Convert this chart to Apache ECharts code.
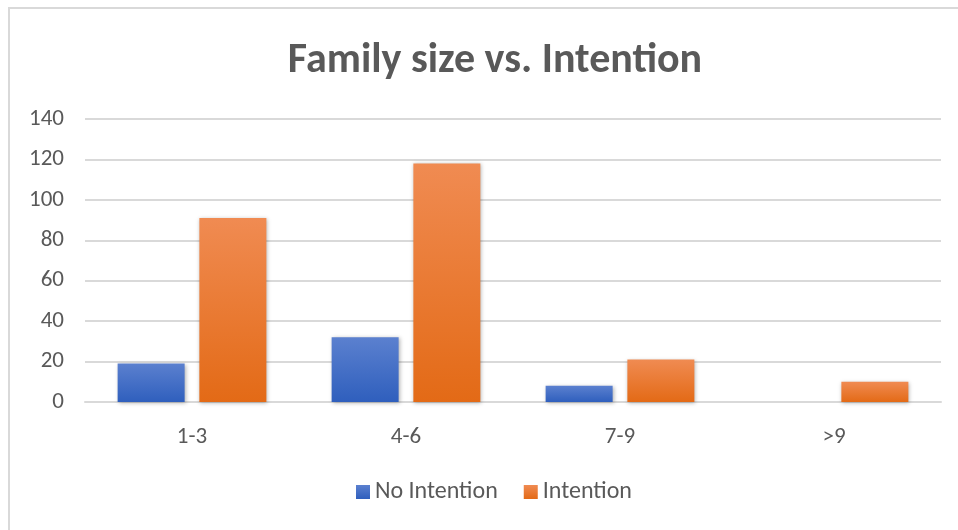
<!DOCTYPE html>
<html>
<head>
<meta charset="utf-8">
<script src="https://cdn.jsdelivr.net/npm/echarts@6/dist/echarts.min.js"></script>
<style>
  html, body { margin: 0; padding: 0; background: #ffffff; }
  #frame { position: absolute; left: 8px; top: 7px; width: 960px; height: 540px; border: 2px solid #d9d9d9; box-sizing: border-box; }
  #chart { position: absolute; left: 0; top: 0; width: 958px; height: 530px; }
</style>
</head>
<body>
<div id="frame"></div>
<div id="chart"></div>
<script>
// Family size groups and respondent counts
const categories = ['1-3', '4-6', '7-9', '>9'];
const noIntention = [19, 32, 8, 0];
const intention = [91, 118, 21, 10];
const yTicks = { min: 0, max: 140, interval: 20 };

const chart = echarts.init(document.getElementById('chart'), null, { renderer: 'canvas' });

function grad(top, bottom) {
  return new echarts.graphic.LinearGradient(0, 0, 0, 1, [
    { offset: 0, color: top },
    { offset: 1, color: bottom }
  ]);
}

const textColor = '#595959';
const font = 'Calibri, Carlito, "Open Sans", sans-serif';

chart.setOption({
  animation: false,
  backgroundColor: 'transparent',
  title: {
    text: 'Family size vs. Intention',
    left: 490,
    textAlign: 'center',
    top: 35,
    textStyle: { fontFamily: font, fontSize: 42, fontWeight: 600, color: textColor }
  },
  legend: {
    bottom: 21,
    left: 351,
    itemWidth: 14,
    itemHeight: 14,
    itemGap: 26,
    icon: 'rect',
    textStyle: { fontFamily: font, fontSize: 24, color: textColor },
    data: ['No Intention', 'Intention']
  },
  grid: { left: 85, right: 17, top: 119, bottom: 128, containLabel: false },
  xAxis: {
    type: 'category',
    data: categories,
    axisLine: { lineStyle: { color: '#d9d9d9', width: 2 } },
    axisTick: { show: false },
    axisLabel: { margin: 24, fontFamily: font, fontSize: 23, color: textColor }
  },
  yAxis: {
    type: 'value',
    min: yTicks.min,
    max: yTicks.max,
    interval: yTicks.interval,
    axisLine: { show: false },
    axisTick: { show: false },
    axisLabel: { margin: 21, fontFamily: font, fontSize: 23, color: textColor },
    splitLine: { lineStyle: { color: '#d9d9d9', width: 2 } }
  },
  series: [
    {
      name: 'No Intention',
      type: 'bar',
      data: noIntention,
      barWidth: 67,
      barGap: '22%',
      itemStyle: {
        color: grad('#5b80cf', '#2f5fbd'),
        shadowBlur: 4,
        shadowColor: 'rgba(0,0,0,0.3)',
        shadowOffsetX: 1,
        shadowOffsetY: 1
      }
    },
    {
      name: 'Intention',
      type: 'bar',
      data: intention,
      barWidth: 67,
      itemStyle: {
        color: grad('#f08b52', '#e36a16'),
        shadowBlur: 4,
        shadowColor: 'rgba(0,0,0,0.3)',
        shadowOffsetX: 1,
        shadowOffsetY: 1
      }
    }
  ]
});
</script>
</body>
</html>
